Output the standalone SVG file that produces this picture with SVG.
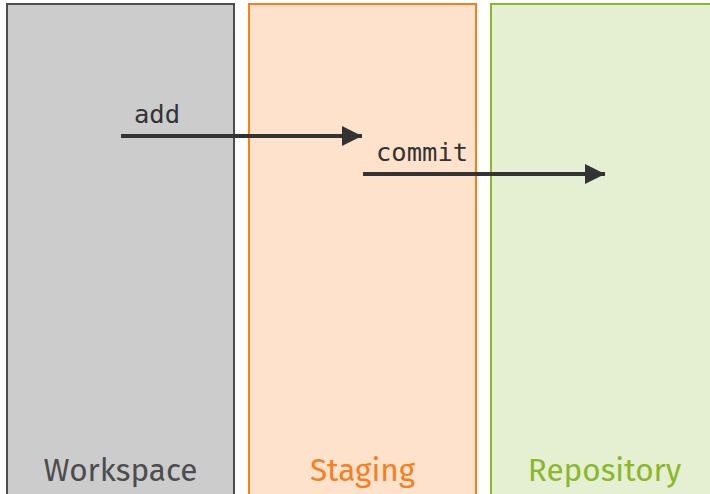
<svg xmlns="http://www.w3.org/2000/svg" width="710" height="494" viewBox="0 0 710 494">
<defs>
<style>
.lane{stroke-width:2}
.lbl{font-family:"Fira Sans","Open Sans","Noto Sans",sans-serif;font-size:31.5px;text-anchor:middle}
.cmd{font-family:"DejaVu Sans Mono","Liberation Mono",monospace;font-size:25.5px;fill:#333}
.conn{stroke:#333;stroke-width:4;fill:none;marker-end:url(#ah)}
</style>
<marker id="ah" viewBox="0 0 10 10" refX="10" refY="5" markerWidth="5" markerHeight="5" orient="auto" markerUnits="strokeWidth">
<path d="M0,0 L10,5 L0,10 z" fill="#333"/>
</marker>
</defs>
<rect width="710" height="494" fill="#fff"/>
<g id="workspace">
<rect class="lane" x="7" y="4" width="227" height="500" fill="#cccccc" stroke="#4d4d4d"/>
<text class="lbl" x="120.5" y="481" fill="#4d4d4d">Workspace</text>
</g>
<g id="staging">
<rect class="lane" x="249" y="4" width="227" height="500" fill="#ffe2cc" stroke="#f77f1e"/>
<text class="lbl" x="362.5" y="481" fill="#f77f1e">Staging</text>
</g>
<g id="repository">
<rect class="lane" x="491" y="4" width="227" height="500" fill="#e5efd2" stroke="#8ab82a"/>
<text class="lbl" x="604.5" y="481" fill="#8ab82a">Repository</text>
</g>
<g id="connectors">
<path class="conn" d="M121,136 H362"/>
<text class="cmd" x="134" y="123">add</text>
<path class="conn" d="M363,174 H605"/>
<text class="cmd" x="376" y="161">commit</text>
</g>
</svg>
